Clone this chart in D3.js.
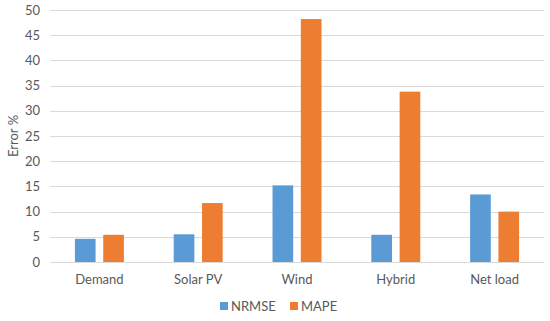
<!DOCTYPE html>
<html><head><meta charset="utf-8">
<script src="https://cdn.jsdelivr.net/npm/d3@7"></script>
<style>body{margin:0;background:#fff;} svg{display:block;font-family:Lato,"Open Sans",sans-serif;}</style>
</head><body>
<svg id="c" width="550" height="321"></svg>
<script>
const categories = ["Demand", "Solar PV", "Wind", "Hybrid", "Net load"];
const seriesNames = ["NRMSE", "MAPE"];
const nrmse = [4.6, 5.5, 15.2, 5.4, 13.4];
const mape = [5.4, 11.7, 48.2, 33.8, 10.0];
const yTicks = [0, 5, 10, 15, 20, 25, 30, 35, 40, 45, 50];
const colors = ["#5B9BD5", "#ED7D31"];

const svg = d3.select("#c");
const m = {left: 50, right: 6, top: 10, bottom: 59};
const W = 550, H = 321;
const x = d3.scaleBand().domain(categories).range([m.left, W - m.right]).paddingInner(0).paddingOuter(0);
const x1 = d3.scaleBand().domain(seriesNames).range([0, x.bandwidth()]).paddingInner(0.27).paddingOuter(0.88);
const y = d3.scaleLinear().domain([0, 50]).range([H - m.bottom, m.top]);

// gridlines
svg.append("g").selectAll("line").data(yTicks).join("line")
  .attr("x1", m.left).attr("x2", W - m.right)
  .attr("y1", d => Math.round(y(d)) + 0.5).attr("y2", d => Math.round(y(d)) + 0.5)
  .attr("stroke", "#D9D9D9").attr("stroke-width", 1);

// y tick labels
svg.append("g").selectAll("text").data(yTicks).join("text")
  .attr("x", 40).attr("y", d => y(d)).attr("dy", "0.35em")
  .attr("text-anchor", "end").attr("font-size", 13).attr("fill", "#595959")
  .text(d => d);

// bars
const data = categories.map((c, i) => ({c, vals: [nrmse[i], mape[i]]}));
const g = svg.append("g").selectAll("g").data(data).join("g")
  .attr("transform", d => `translate(${x(d.c)},0)`);
g.selectAll("rect").data(d => d.vals.map((v, j) => ({s: seriesNames[j], v, j}))).join("rect")
  .attr("x", d => x1(d.s)).attr("width", x1.bandwidth())
  .attr("y", d => y(d.v)).attr("height", d => y(0) - y(d.v))
  .attr("fill", d => colors[d.j]);

// category labels
svg.append("g").selectAll("text").data(categories).join("text")
  .attr("x", d => x(d) + x.bandwidth() / 2).attr("y", 279).attr("dy", "0.35em")
  .attr("text-anchor", "middle").attr("font-size", 13).attr("fill", "#595959")
  .text(d => d);

// y axis title
svg.append("text")
  .attr("transform", `translate(13,${(y(0) + y(50)) / 2}) rotate(-90)`)
  .attr("text-anchor", "middle").attr("dy", "0.35em").attr("font-size", 13).attr("fill", "#595959")
  .text("Error %");

// legend
const leg = svg.append("g");
const lx = [220, 290];
seriesNames.forEach((s, i) => {
  leg.append("rect").attr("x", lx[i]).attr("y", 302).attr("width", 8).attr("height", 8).attr("fill", colors[i]);
  leg.append("text").attr("x", lx[i] + 11).attr("y", 306).attr("dy", "0.35em")
    .attr("font-size", 13).attr("fill", "#595959").text(s);
});
</script>
</body></html>
